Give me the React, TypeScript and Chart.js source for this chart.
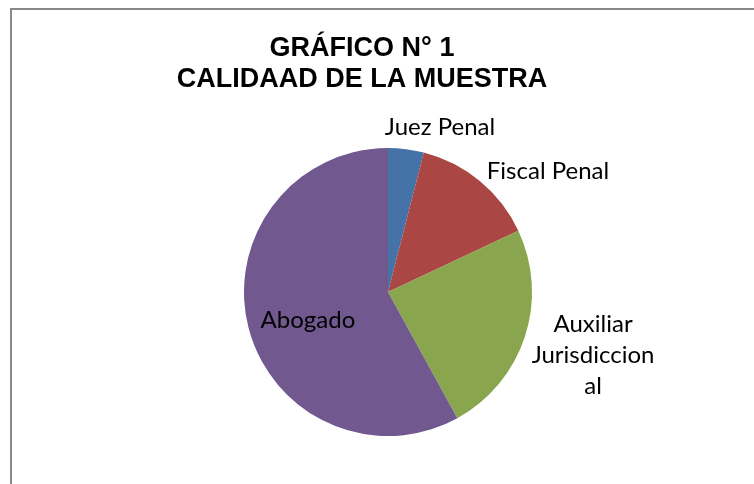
import React, { useEffect, useRef } from "react";
import { Chart, registerables } from "chart.js";

Chart.register(...registerables);

const titleLines = ["GRÁFICO N° 1", "CALIDAAD DE LA MUESTRA"];
const categories = ["Juez Penal", "Fiscal Penal", "Auxiliar Jurisdiccional", "Abogado"];
const labelLines = [["Juez Penal"], ["Fiscal Penal"], ["Auxiliar", "Jurisdiccion", "al"], ["Abogado"]];
const values = [2, 7, 12, 29];
const colors = ["#4572A7", "#AA4643", "#89A54E", "#71588F"];

// label anchor offsets relative to pie center, in units of radius
const labelOffsets = [
  [0.361, -1.146],
  [1.111, -0.84],
  [1.424, 0.4375],
  [-0.556, 0.194],
];

const labelPlugin = {
  id: "customLabels",
  afterDraw(chart: any) {
    const ctx = chart.ctx;
    const meta = chart.getDatasetMeta(0);
    const arc = meta.data[0];
    if (!arc) return;
    const cx = arc.x;
    const cy = arc.y;
    const r = arc.outerRadius;
    ctx.save();
    // title
    ctx.fillStyle = "#000";
    ctx.textAlign = "center";
    ctx.textBaseline = "alphabetic";
    ctx.font = "bold 27px 'Liberation Sans', Arial, sans-serif";
    ctx.fillText(titleLines[0], 362, 56);
    ctx.fillText(titleLines[1], 362, 87);
    // labels
    ctx.font = "24px Lato, 'Open Sans', sans-serif";
    ctx.textBaseline = "middle";
    labelLines.forEach((lines, i) => {
      const x = cx + labelOffsets[i][0] * r;
      const y = cy + labelOffsets[i][1] * r;
      const lh = 31;
      const start = y - ((lines.length - 1) * lh) / 2;
      lines.forEach((t, j) => ctx.fillText(t, x, start + j * lh));
    });
    ctx.restore();
  },
};

export default function App() {
  const ref = useRef<HTMLCanvasElement | null>(null);
  useEffect(() => {
    if (!ref.current) return;
    const chart = new Chart(ref.current, {
      type: "pie",
      data: {
        labels: categories,
        datasets: [
          {
            data: values,
            backgroundColor: colors,
            borderWidth: 0,
          },
        ],
      },
      options: {
        responsive: false,
        animation: false,
        layout: { padding: { left: 244, right: 222, top: 148, bottom: 48 } },
        plugins: {
          legend: { display: false },
          title: { display: false },
          tooltip: { enabled: false },
        },
      },
      plugins: [labelPlugin],
    });
    return () => chart.destroy();
  }, []);
  return (
    <div style={{ position: "fixed", left: 0, top: 0, width: 754, height: 484, background: "#fff", overflow: "hidden" }}>
      <canvas ref={ref} width={754} height={484} style={{ position: "absolute", left: 0, top: 0 }} />
      <div
        style={{
          position: "absolute",
          left: 10,
          top: 8,
          width: 900,
          height: 700,
          borderTop: "2px solid #898989",
          borderLeft: "2px solid #898989",
          pointerEvents: "none",
        }}
      />
    </div>
  );
}
